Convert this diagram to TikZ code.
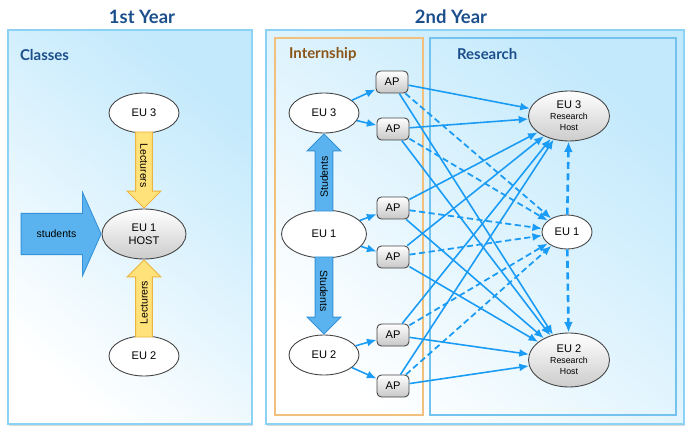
\documentclass[tikz,border=0pt]{standalone}
\usepackage{fontspec}
\setmainfont{Liberation Sans}
\newfontfamily\headfont{Lato}
\usetikzlibrary{arrows.meta,positioning,shapes.geometric,shapes.arrows,shadows,calc}
\definecolor{erblue}{HTML}{1A9BF5}
\definecolor{erhead}{HTML}{1B4F8C}
\definecolor{erbrown}{HTML}{8A5518}
\definecolor{erframe}{HTML}{8CD2F5}
\definecolor{erframedk}{HTML}{74C2EE}
\definecolor{ersky}{HTML}{C2E9FC}
\definecolor{ertan}{HTML}{F0C07C}
\definecolor{eryellow}{HTML}{FFE27A}
\definecolor{erorange}{HTML}{EDB43E}
\definecolor{erstu}{HTML}{5AB3EE}
\definecolor{erstudk}{HTML}{3592DA}
\definecolor{ergray}{HTML}{444444}
\tikzset{
 panel/.style={draw=erframe, line width=1.6pt, shading=axis, bottom color=white,
 top color=ersky, shading angle=-40,
 drop shadow={shadow xshift=0.5pt, shadow yshift=-1.2pt, opacity=0.3}},
 intbox/.style={draw=ertan, line width=1.2pt},
 resbox/.style={draw=erframedk, line width=1.3pt},
 yeartitle/.style={font=\headfont\bfseries\fontsize{10.5}{12}\selectfont, text=erhead, inner sep=1pt},
 paneltitle/.style={font=\headfont\bfseries\fontsize{8.5}{10}\selectfont, inner sep=1pt},
 euwhite/.style={ellipse, draw=ergray, line width=0.5pt, fill=white, align=center,
 font=\fontsize{6.3}{7.2}\selectfont, inner sep=0pt, minimum width=1.4cm, minimum height=0.8cm},
 euhost/.style={euwhite, fill=none, top color=white, bottom color=black!20},
 apbox/.style={rectangle, rounded corners=2.5pt, draw=ergray, line width=0.5pt,
 top color=white, bottom color=black!22, font=\fontsize{6.3}{7.2}\selectfont,
 inner sep=0pt, minimum width=0.64cm, minimum height=0.44cm},
 lecarrow/.style={single arrow, draw=erorange, fill=eryellow, line width=0.5pt,
 font=\fontsize{6}{7}\selectfont, inner xsep=1pt, inner ysep=2.4pt,
 single arrow head extend=0.17cm, single arrow tip angle=90},
 stuarrow/.style={single arrow, draw=erstudk, fill=erstu, line width=0.5pt,
 font=\fontsize{6}{7}\selectfont, inner xsep=1pt},
 conarrow/.style={-{Latex[length=5.5pt,width=4.5pt]}, draw=erblue, line width=0.9pt},
 dasharrow/.style={conarrow, line width=1pt, dash pattern=on 3.5pt off 2pt},
 linkarrow/.style={-{Latex[length=6pt,width=5pt]}, draw=erblue, line width=1.5pt,
 dash pattern=on 4pt off 2.5pt},
}
\newcommand{\hostfont}{\fontsize{5}{5.8}\selectfont}

\begin{document}
\begin{tikzpicture}[x=0.02cm, y=-0.02cm]
\useasboundingbox (0,0) rectangle (689,439);

% -- Panels ------------------------------------------------
\path[panel] (8,30) rectangle (252,424);
\path[panel] (266,30) rectangle (684,424);
\draw[intbox] (275,38) rectangle (423,415);
\draw[resbox] (430,38) rectangle (676,415);

\node[yeartitle] (y1) at (142,17) {1st Year};
\node[yeartitle] (y2) at (451,17) {2nd Year};
\node[paneltitle, text=erhead, anchor=west] (cls) at (18,55) {Classes};
\node[paneltitle, text=erbrown, anchor=west] (ins) at (287,54) {Internship};
\node[paneltitle, text=erhead, anchor=west] (res) at (455,54) {Research};

% -- 1st year: classes -------------------------------------
\node[euwhite] (c3) at (144,113) {EU 3};
\node[euhost, minimum width=1.68cm, minimum height=1.0cm] (c1) at (144,234) {EU 1\\HOST};
\node[euwhite] (c2) at (144,356) {EU 2};

\node[lecarrow, rotate=-90, anchor=tip, minimum height=1.52cm] (lec3) at (c1.north) {Lecturers};
\node[lecarrow, rotate=90, anchor=tip, minimum height=1.54cm] (lec2) at (c1.south) {Lecturers};
\node[stuarrow, anchor=tip, minimum height=1.6cm, inner ysep=9.3pt,
      single arrow head extend=0.42cm, single arrow tip angle=132] (stu) at (c1.west) {students};

% -- 2nd year: internship ----------------------------------
\node[euwhite] (i3) at (324,113) {EU 3};
\node[euwhite, minimum width=1.7cm, minimum height=0.96cm] (i1) at (324,234) {EU 1};
\node[euwhite] (i2) at (324,355) {EU 2};

\node[stuarrow, rotate=90, anchor=tip, minimum height=1.54cm, inner ysep=2.6pt,
      single arrow head extend=0.16cm, single arrow tip angle=90] (st3) at (i3.south) {Students};
\node[stuarrow, rotate=-90, anchor=tip, minimum height=1.54cm, inner ysep=2.6pt,
      single arrow head extend=0.16cm, single arrow tip angle=90] (st2) at (i2.north) {Students};

\node[apbox] (ap1) at (392,82) {AP};
\node[apbox] (ap2) at (393,129) {AP};
\node[apbox] (ap3) at (393,208) {AP};
\node[apbox] (ap4) at (393,257) {AP};
\node[apbox] (ap5) at (393,335) {AP};
\node[apbox] (ap6) at (393,386) {AP};

\draw[conarrow] (i3) -- (ap1);
\draw[conarrow] (i3) -- (ap2);
\draw[conarrow] (i1) -- (ap3);
\draw[conarrow] (i1) -- (ap4);
\draw[conarrow] (i2) -- (ap5);
\draw[conarrow] (i2) -- (ap6);

% -- 2nd year: research ------------------------------------
\node[euhost, minimum width=1.62cm, minimum height=1.0cm] (rh3) at (569,116)
      {EU 3\\[-1pt]\hostfont Research\\[-1pt]\hostfont Host};
\node[euwhite, minimum width=1.0cm, minimum height=0.68cm] (r1) at (567,232) {EU 1};
\node[euhost, minimum width=1.62cm, minimum height=1.08cm] (rh2) at (569,360)
      {EU 2\\[-1pt]\hostfont Research\\[-1pt]\hostfont Host};

\foreach \a in {1,...,6} {
  \draw[conarrow] (ap\a) -- (rh3);
  \draw[dasharrow] (ap\a) -- (r1);
  \draw[conarrow] (ap\a) -- (rh2);
}

\draw[linkarrow] (r1) -- (rh3);
\draw[linkarrow] (r1) -- (rh2);

\end{tikzpicture}
\end{document}
